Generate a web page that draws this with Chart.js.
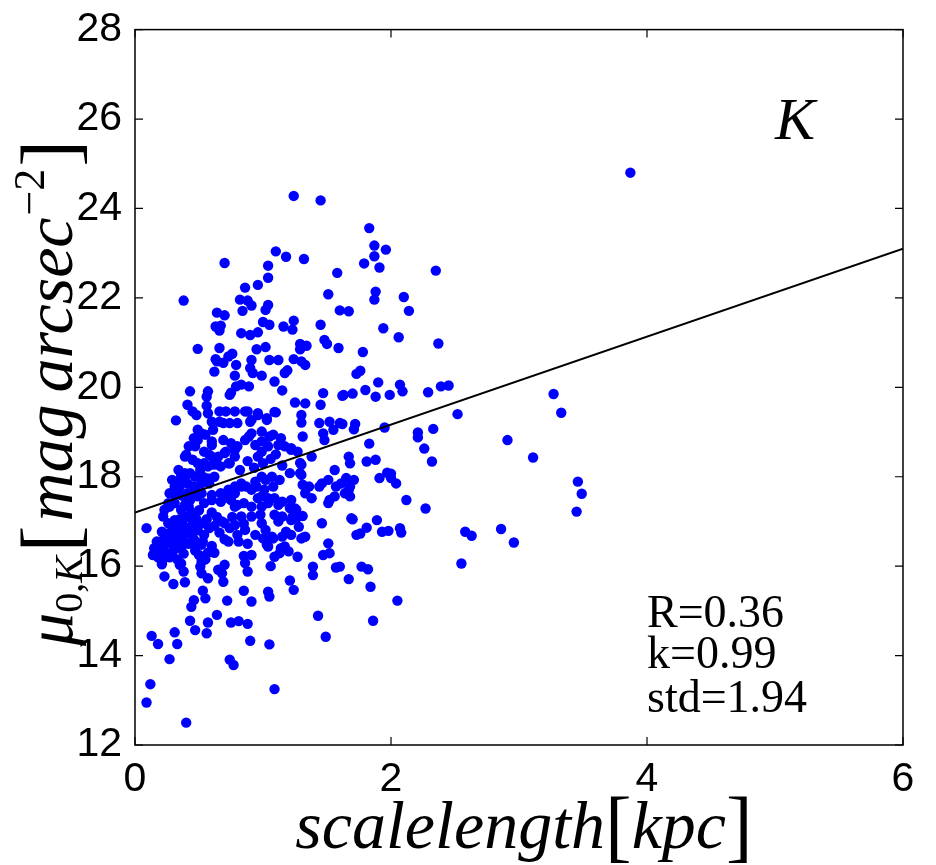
<!DOCTYPE html>
<html>
<head>
<meta charset="utf-8">
<script src="https://cdn.jsdelivr.net/npm/chart.js@4.4.1/dist/chart.umd.min.js"></script>
<style>
  html, body { margin: 0; padding: 0; background: #fff; }
  #wrap { width: 936px; height: 865px; position: relative; }
</style>
</head>
<body>
<div id="wrap"><canvas id="myChart"></canvas></div>
<script>
// scale length [kpc], central surface brightness mu_0,K [mag arcsec^-2]
var galaxies = [
  [3.87,24.80],[1.24,24.28],[1.45,24.18],[1.83,23.56],[1.87,23.17],[1.96,23.08],[1.87,22.93],[1.79,22.77],
  [1.91,22.68],[1.10,23.04],[1.18,22.92],[1.32,22.87],[0.70,22.78],[1.04,22.72],[1.04,22.45],[0.96,22.29],
  [0.86,22.23],[1.58,22.56],[2.35,22.61],[1.51,22.08],[1.88,22.14],[1.87,21.96],[2.10,22.02],[2.14,21.71],
  [0.38,21.94],[0.82,21.96],[0.88,21.94],[0.91,21.83],[0.84,21.71],[1.02,21.73],[1.04,21.84],[0.64,21.67],
  [0.70,21.61],[1.60,21.72],[1.67,21.70],[1.24,21.49],[1.45,21.40],[1.00,21.46],[1.05,21.40],[1.16,21.36],
  [1.23,21.29],[1.94,21.32],[0.63,21.36],[0.67,21.38],[0.66,21.27],[0.83,21.21],[0.90,21.17],[0.96,21.23],
  [1.48,21.06],[1.50,20.97],[1.59,20.88],[2.06,21.12],[2.37,20.98],[1.29,20.97],[1.34,20.93],[1.29,20.85],
  [0.49,20.86],[0.66,20.88],[0.95,20.85],[1.02,20.90],[1.78,20.79],[0.63,20.63],[0.76,20.75],[0.91,20.61],
  [1.05,20.61],[1.12,20.61],[1.24,20.63],[1.30,20.58],[0.64,20.58],[0.69,20.55],[0.73,20.69],[0.79,20.50],
  [0.90,20.43],[0.92,20.32],[0.99,20.26],[1.33,20.50],
  [1.73,20.30],[1.76,20.37],[1.90,20.11],[2.07,20.06],[2.09,19.91],[1.80,19.94],[1.88,19.79],[1.62,19.81],
  [1.70,19.86],[1.99,19.83],[2.29,19.89],[2.39,20.02],[2.45,20.04],[3.27,19.85],[3.33,19.43],[2.52,19.40],
  [0.62,20.35],[0.78,20.26],[0.83,20.06],[0.89,20.02],[0.79,20.02],[1.09,20.13],[1.15,19.93],[1.17,20.32],
  [1.19,20.38],[0.43,19.91],[0.57,19.91],[0.41,19.61],[0.45,19.46],[0.48,19.38],[0.56,19.59],[0.32,19.26],
  [0.56,19.79],[0.75,19.88],[0.74,19.83],[0.66,19.46],[0.71,19.46],[0.78,19.46],[0.86,19.46],[0.96,19.38],
  [1.03,19.31],[1.09,19.45],[1.25,19.66],[1.33,19.64],[1.30,19.38],[1.45,19.61],[1.47,19.87],[1.63,19.83],
  [1.10,19.44],[0.96,19.42],[0.91,19.27],[1.03,19.27],[0.88,19.46],[0.57,19.42],
  [1.62,19.18],[1.72,19.18],[1.71,19.06],[1.95,19.10],[2.21,18.99],[2.21,18.88],[2.33,19.07],[1.83,18.74],
  [2.26,18.63],[2.91,18.82],[3.11,18.43],[1.67,18.45],[1.68,18.30],[1.81,18.34],[1.88,18.38],[2.32,18.34],
  [1.30,19.21],[1.44,19.20],[1.52,19.23],[1.60,19.20],[1.47,18.97],[1.55,19.05],[1.48,18.82],[1.31,18.90],
  [0.91,18.97],[0.99,19.01],[0.99,18.79],[1.08,18.94],[1.14,18.86],[1.17,18.68],[1.12,18.71],[1.04,18.68],
  [0.99,18.56],[0.96,18.45],[1.22,18.64],[1.27,18.56],[1.38,18.45],[1.30,18.27],
  [0.69,19.20],[0.74,19.20],[0.80,19.20],[0.61,19.05],[0.52,18.97],[0.49,18.82],[0.47,18.68],[0.60,18.79],
  [0.69,18.82],[0.75,18.75],[0.80,18.68],[0.86,18.82],[0.54,18.56],[0.58,18.49],[0.65,18.45],[0.71,18.56],
  [0.78,18.60],[0.40,18.49],[0.45,18.38],[0.49,18.30],[0.54,18.30],[0.61,18.27],[0.67,18.23],[0.74,18.30],
  [0.49,19.05],[0.46,18.86],[0.42,18.68],[0.55,18.94],[0.60,19.23],[0.66,19.23],[0.90,19.23],[1.05,18.90],
  [1.22,18.60],[0.89,18.90],[0.70,18.53],[0.60,18.71],[0.94,18.71],[0.39,18.45],[0.60,18.45],
  [0.82,18.15],[0.88,18.35],[0.93,18.20],[1.00,18.30],[1.06,18.40],[1.15,18.25],[0.78,18.45],[1.10,18.50],
  [1.65,17.97],[1.71,17.93],[1.68,17.78],[1.67,17.71],[1.68,17.56],[1.91,17.97],[1.97,18.09],[2.00,18.07],
  [2.04,17.85],[2.00,17.97],[2.12,17.48],[2.27,17.29],[3.46,17.89],[3.49,17.62],[3.45,17.22],
  [1.21,18.08],[1.29,18.08],[1.56,18.15],[0.99,18.00],[1.07,18.00],[1.13,17.93],[0.94,17.89],[1.01,17.71],
  [1.08,17.78],[1.31,17.82],[1.36,17.78],[1.44,17.78],[1.51,17.93],[1.57,17.78],[0.96,17.52],[1.04,17.52],
  [1.22,17.48],[1.38,17.52],[1.52,17.48],[1.25,17.29],[1.30,18.04],[1.29,18.31],
  [0.83,17.85],[0.87,17.78],[0.91,17.71],[0.95,17.78],[1.02,17.93],[0.99,17.56],[1.04,17.41],[1.09,17.52],
  [1.15,17.44],[0.85,17.41],[0.91,17.33],[0.78,17.63],[0.73,17.52],[0.78,17.33],[1.46,17.85],[1.61,17.85],
  [1.64,17.63],[1.56,17.56],[1.51,17.41],[1.33,17.63],[0.73,18.30],
  [0.36,18.00],[0.39,17.93],[0.43,18.08],[0.47,18.00],[0.53,18.00],[0.57,17.96],[0.62,18.00],[0.31,17.78],
  [0.35,17.78],[0.41,17.85],[0.47,17.71],[0.52,17.85],[0.58,17.85],[0.27,17.63],[0.31,17.59],[0.36,17.59],
  [0.41,17.63],[0.47,17.59],[0.52,17.63],[0.60,17.59],[0.67,17.63],[0.73,17.71],[0.78,17.78],[0.83,17.78],
  [0.26,17.41],[0.31,17.41],[0.39,17.37],[0.54,17.41],[0.60,17.48],[0.67,17.44],[0.75,17.48],[0.80,17.37],
  [0.34,18.15],[0.39,18.08],[0.51,18.15],[0.57,18.23],[0.64,18.27],[0.29,17.93],[0.34,17.85],[0.46,17.78],
  [0.38,17.56],[0.43,17.48],[0.49,17.56],[0.23,17.26],[0.27,17.33],[0.36,17.26],[0.42,17.33],[0.99,17.33],
  [1.12,17.37],[1.26,17.26],
  [1.70,17.05],[1.89,17.03],[1.81,16.86],[1.76,16.73],[1.73,16.70],[1.93,16.77],[1.98,16.79],[2.07,16.85],
  [2.08,16.75],[2.58,16.77],[2.63,16.68],[2.86,16.83],[2.96,16.53],[1.69,17.07],[1.51,16.51],[1.47,16.25],
  [1.52,16.29],[1.46,16.96],
  [0.22,17.11],[0.31,17.03],[0.36,16.96],[0.42,17.11],[0.26,16.96],[0.21,16.77],[0.26,16.73],[0.31,16.70],
  [0.38,16.77],[0.44,16.73],[0.09,16.85],[0.20,16.55],[0.25,16.51],[0.31,16.48],[0.39,16.51],[0.47,16.55],
  [0.52,16.48],
  [0.83,17.11],[0.91,17.11],[0.98,17.15],[1.09,17.15],[1.15,17.11],[1.22,17.03],[1.28,16.88],[0.70,16.96],
  [0.78,16.92],[0.86,16.81],[0.94,16.70],[1.02,16.81],[1.07,16.66],[1.15,16.66],[1.22,16.70],[1.30,16.62],
  [0.73,16.55],[0.81,16.55],[1.04,16.44],[1.17,16.44],[1.33,16.66],[0.99,16.96],[1.12,17.00],[1.26,17.07],
  [1.18,16.77],[1.00,16.62],[1.08,16.62],[1.03,16.48],[1.14,16.40],[1.20,16.33],[1.09,16.21],[1.13,16.29],
  [0.91,16.25],[1.27,16.21],[1.31,17.12],[1.32,16.65],[1.21,17.30],[1.23,17.10],
  [0.15,16.40],[0.14,16.25],[0.17,16.55],[0.18,16.20],[0.20,16.35],[0.21,16.10],[0.23,16.60],[0.24,16.30],
  [0.27,16.20],[0.28,16.70],[0.29,16.90],[0.30,16.35],[0.32,16.55],[0.33,16.15],[0.34,16.80],[0.35,17.05],
  [0.36,16.40],[0.37,16.95],[0.38,16.65],[0.40,17.10],[0.41,16.85],[0.42,16.50],[0.44,17.20],[0.45,16.95],
  [0.46,16.60],[0.48,17.05],[0.49,16.80],[0.50,17.25],[0.52,16.95],[0.54,16.70],[0.56,17.05],[0.58,16.85],
  [0.60,17.20],[0.62,16.90],[0.64,17.10],[0.66,16.75],[0.68,17.00],[0.70,16.60],[0.60,16.45],[0.57,16.30],
  [0.53,16.55],[0.50,16.25],[0.47,16.35],[0.55,16.15],[0.62,16.30],[0.74,16.85],[0.76,17.10],[0.80,16.70],
  [0.85,16.95],[0.88,16.50],
  [1.60,15.99],[1.77,15.99],[1.82,15.93],[1.67,15.71],[1.84,15.54],[2.55,16.06],[2.05,15.23],[1.86,14.78],
  [1.39,15.99],[1.39,15.80],[1.57,15.97],[1.06,16.00],[1.21,15.68],[1.24,15.47],[0.85,16.23],[0.88,15.88],
  [0.85,15.45],[0.91,15.21],[1.04,15.43],[1.05,15.32],[0.70,16.03],[0.68,15.84],[0.69,15.65],[0.65,15.92],
  [0.52,16.10],[0.51,15.99],[0.52,15.84],[0.57,15.73],[0.36,16.06],[0.38,15.88],[0.39,15.64],[0.23,15.77],
  [0.30,15.60],[0.53,15.45],[0.55,15.28],[0.46,15.24],[0.44,15.09],[0.72,15.23],[0.64,14.91],[0.43,14.78],
  [0.47,14.57],[0.57,14.74],[0.56,14.50],[0.75,14.74],[0.81,14.77],[0.88,14.71],[0.31,14.52],[0.33,14.26],
  [0.13,14.44],[0.18,14.26],[0.27,13.92],[0.90,14.33],[1.05,14.25],[1.43,14.89],[1.49,14.42],[0.74,13.91],
  [0.77,13.79],[0.12,13.36],[0.09,12.95],[1.09,13.25],[0.40,12.50],[0.86,16.07],[0.21,16.04],[0.35,16.03],
  [0.38,16.28]
];

// least squares fit drawn in the figure
var fitX = [0, 6];
var fitY = [17.2, 23.1];

var xTicks = [0, 2, 4, 6];
var yTicks = [12, 14, 16, 18, 20, 22, 24, 26, 28];
var statLines = ["R=0.36", "k=0.99", "std=1.94"];
var bandLabel = "K";

Chart.defaults.font.family = '"Liberation Sans", Arial, sans-serif';
Chart.defaults.color = '#000';

var serif = '"Liberation Serif", "Times New Roman", serif';

// draws a row of text pieces, each {t, font, dy}
function drawRow(ctx, pieces, x0, y0) {
	var x = x0;
	pieces.forEach(function(p){
		ctx.font = p.font;
		ctx.fillText(p.t, x, y0 + (p.dy || 0));
		x += ctx.measureText(p.t).width + (p.gap || 0);
	});
	return x - x0;
}
function rowWidth(ctx, pieces) {
	var w = 0;
	pieces.forEach(function(p){
		ctx.font = p.font;
		w += ctx.measureText(p.t).width + (p.gap || 0);
	});
	return w;
}

var decor = {
	id: 'decor',
	afterDraw: function(chart) {
		var ctx = chart.ctx, a = chart.chartArea;
		var sx = chart.scales.x, sy = chart.scales.y;
		ctx.save();
		ctx.strokeStyle = '#000';
		ctx.lineWidth = 1.5;
		ctx.strokeRect(a.left, a.top, a.right - a.left, a.bottom - a.top);
		ctx.lineWidth = 1.2;
		ctx.beginPath();
		xTicks.forEach(function(v){
			var px = sx.getPixelForValue(v);
			ctx.moveTo(px, a.bottom); ctx.lineTo(px, a.bottom - 8);
			ctx.moveTo(px, a.top); ctx.lineTo(px, a.top + 8);
		});
		yTicks.forEach(function(v){
			var py = sy.getPixelForValue(v);
			ctx.moveTo(a.left, py); ctx.lineTo(a.left + 8, py);
			ctx.moveTo(a.right, py); ctx.lineTo(a.right - 8, py);
		});
		ctx.stroke();

		ctx.fillStyle = '#000';
		ctx.textBaseline = 'alphabetic';
		ctx.textAlign = 'left';

		// band label
		ctx.font = 'italic 60px ' + serif;
		ctx.fillText(bandLabel, sx.getPixelForValue(5.0), sy.getPixelForValue(25.55));

		// stats
		ctx.font = '46px ' + serif;
		var statY = [14.64, 13.72, 12.74];
		statLines.forEach(function(s, i){
			ctx.fillText(s, sx.getPixelForValue(4.0), sy.getPixelForValue(statY[i]));
		});

		// x axis title
		var it = 'italic 68px ' + serif, br = '80px ' + serif;
		var xt = [
			{t: 'scalelength', font: it},
			{t: '[', font: br, dy: 4},
			{t: 'kpc', font: it},
			{t: ']', font: br, dy: 4}
		];
		var w = rowWidth(ctx, xt);
		drawRow(ctx, xt, 524 - w / 2, 848);

		// y axis title (rotated)
		var yt = [
			{t: '\u03bc', font: 'italic 66px ' + serif},
			{t: '0,', font: '40px ' + serif, dy: 10},
			{t: 'K', font: 'italic 40px ' + serif, dy: 10, gap: 4},
			{t: '[', font: br, dy: 4, gap: 4},
			{t: 'mag', font: it, gap: 12},
			{t: 'arcsec', font: it, gap: 2},
			{t: '\u22122', font: '44px ' + serif, dy: -28, gap: 2},
			{t: ']', font: br, dy: 4}
		];
		ctx.translate(72, 646);
		ctx.rotate(-Math.PI / 2);
		drawRow(ctx, yt, 0, 0);
		ctx.restore();
	}
};

var ctx = document.getElementById('myChart');
var myChart = new Chart(ctx, {
	type: 'scatter',
	data: {
		datasets: [{
			type: 'line',
			label: 'fit',
			data: fitX.map(function(v, i){ return {x: v, y: fitY[i]}; }),
			borderColor: '#000',
			borderWidth: 2,
			pointRadius: 0,
			fill: false,
			order: 0
		}, {
			label: 'galaxies',
			data: galaxies.map(function(g){ return {x: g[0], y: g[1]}; }),
			backgroundColor: '#0000ff',
			borderWidth: 0,
			pointRadius: 5.2,
			order: 1
		}]
	},
	plugins: [decor],
	options: {
		responsive: true,
		maintainAspectRatio: false,
		animation: false,
		layout: { padding: { left: 0, top: 25, right: 33, bottom: 0 } },
		plugins: { legend: { display: false }, tooltip: { enabled: false } },
		scales: {
			x: {
				type: 'linear', min: 0, max: 6,
				afterFit: function(s){ s.height = 120; },
				afterBuildTicks: function(s){ s.ticks = xTicks.map(function(v){ return {value: v}; }); },
				grid: { display: false },
				border: { display: false },
				ticks: { font: { size: 41 }, padding: 2, maxRotation: 0 }
			},
			y: {
				type: 'linear', min: 12, max: 28,
				afterFit: function(s){ s.width = 135; },
				afterBuildTicks: function(s){ s.ticks = yTicks.map(function(v){ return {value: v}; }); },
				grid: { display: false },
				border: { display: false },
				ticks: { font: { size: 41 }, padding: 5 }
			}
		}
	}
});
</script>
</body>
</html>
